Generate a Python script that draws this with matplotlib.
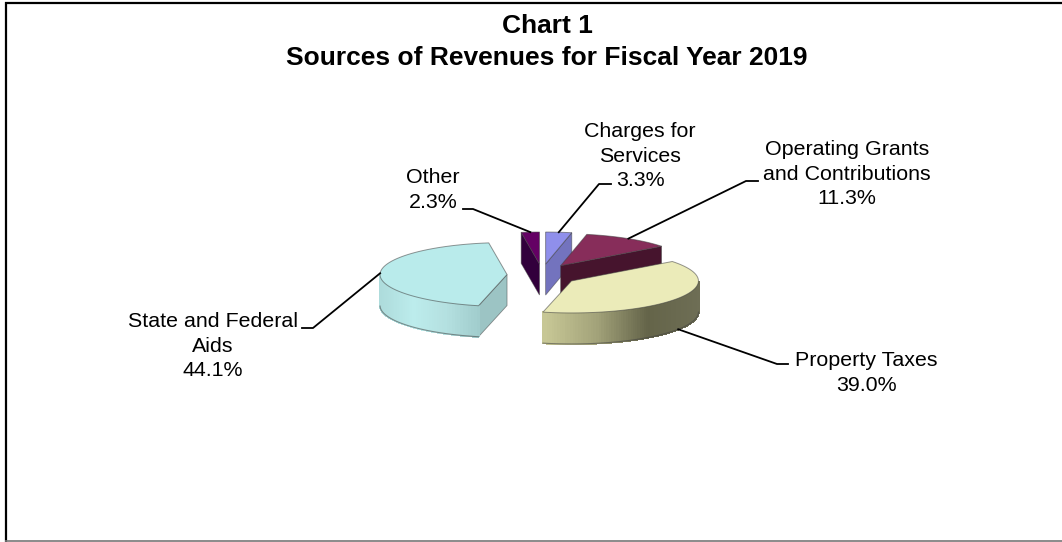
import numpy as np
from matplotlib import pyplot as plt
from matplotlib.colors import LinearSegmentedColormap

title_lines = ["Chart 1", "Sources of Revenues for Fiscal Year 2019"]
names = ["Charges for\nServices", "Operating Grants\nand Contributions", "Property Taxes",
         "State and Federal\nAids", "Other"]
shares = [3.3, 11.3, 39.0, 44.1, 2.3]

# pie geometry, in pixels
cx, cy = 542, 275
rx, ry = 127, 32
ex, ey = 35, 11
depth = 31

top_colors = ["#8f8feb", "#872d5a", "#ebebb9", "#b9ebeb", "#640064"]
cut_colors = ["#7373be", "#46142d", "#8c8c64", "#9cc4c4", "#32003c"]
rim_stops = [["#7373be", "#7373be"],
             ["#46142d", "#46142d"],
             ["#c8c896", "#a3a37a", "#646449", "#6e6e55"],
             ["#aedcdc", "#bcecec", "#b4e0e0", "#a0cccc"],
             ["#32003c", "#32003c"]]

# draw order, back slices first
draw_order = [4, 0, 1, 3, 2]

# leader: end of the horizontal stub, then stub length (+ goes right)
leader_ends = [(611, 184, -12), (758, 181, -12), (788, 364, -11), (302, 328, 11), (463, 209, 10)]
label_pos = [(640, 156), (847, 174), (866, 373), (213, 346), (433, 190)]


def clock_xy(deg, r_x=rx, r_y=ry):
    a = np.radians(deg)
    return r_x * np.sin(a), -r_y * np.cos(a)


plt.rcParams["font.family"] = ["Liberation Sans", "DejaVu Sans"]
fig = plt.figure(figsize=(10.62, 5.42), dpi=100)
ax = fig.add_axes([0, 0, 1, 1])
ax.set_xlim(0, 1062)
ax.set_ylim(542, 0)
ax.axis("off")

# chart frame
ax.plot([6, 6], [542, 2], color="black", lw=1.6, solid_capstyle="butt")
ax.plot([5, 1062], [2.5, 2.5], color="black", lw=1.6, solid_capstyle="butt")
ax.plot([5, 1062], [541, 541], color="#777777", lw=1.2, solid_capstyle="butt")

edges = np.cumsum([0] + shares) / sum(shares) * 360
edge_col = (0.25, 0.25, 0.25, 0.55)

for i in draw_order:
    start, end = edges[i], edges[i + 1]
    mid = (start + end) / 2
    layer = 1 + draw_order.index(i)
    dx, dy = clock_xy(mid, ex, ey)
    ax_x, ax_y = cx + dx, cy + dy
    ang = np.linspace(start, end, 120)
    ox, oy = clock_xy(ang)
    px, py = ax_x + ox, ax_y + oy

    # flat cut faces, only the one turned to the viewer
    ix, iy = clock_xy(mid)
    for a in (start, end):
        ex_x, ex_y = clock_xy(a)
        nx, ny = -ex_y, ex_x
        if nx * ix + ny * iy > 0:
            nx, ny = -nx, -ny
        if ny > 0.01:
            ax.fill([ax_x, ax_x + ex_x, ax_x + ex_x, ax_x],
                    [ax_y, ax_y + ex_y, ax_y + ex_y + depth, ax_y + depth],
                    facecolor=cut_colors[i], edgecolor=edge_col, lw=0.6, zorder=layer)

    # curved outer wall, shaded strip by strip
    cmap = LinearSegmentedColormap.from_list("rim", rim_stops[i])
    front = np.where(np.cos(np.radians(ang)) < 0)[0]
    if len(front) > 1:
        x0, x1 = px[front].min(), px[front].max()
        for k in front[:-1]:
            t = (0.5 * (px[k] + px[k + 1]) - x0) / (x1 - x0)
            ax.fill([px[k], px[k + 1], px[k + 1], px[k]],
                    [py[k], py[k + 1], py[k + 1] + depth, py[k] + depth],
                    facecolor=cmap(t), edgecolor=cmap(t), lw=1.0, antialiased=False, zorder=layer)
        ax.plot(px[front], py[front] + depth, color=edge_col, lw=0.8, zorder=layer)

    # top surface
    ax.fill(np.r_[ax_x, px], np.r_[ax_y, py], facecolor=top_colors[i],
            edgecolor=edge_col, lw=0.7, zorder=layer + 0.5)

    # leader line, anchored on the outer edge at the slice middle
    lx, ly = clock_xy(mid)
    anchor_y = ax_y + ly + (depth if np.cos(np.radians(mid)) < -0.3 else 0)
    sx, sy, stub = leader_ends[i]
    ax.plot([sx, sx + stub, ax_x + lx], [sy, sy, anchor_y], color="black", lw=1.3, zorder=10)

    tx, ty = label_pos[i]
    ax.text(tx, ty, f"{names[i]}\n{shares[i]:.1f}%", ha="center", va="center",
            fontsize=15.4, linespacing=1.36, color="black", zorder=11)

ax.text(547, 26, title_lines[0], ha="center", va="center", fontsize=19, fontweight="bold")
ax.text(547, 58, title_lines[1], ha="center", va="center", fontsize=19, fontweight="bold")

fig.savefig("out.png", dpi=100)
